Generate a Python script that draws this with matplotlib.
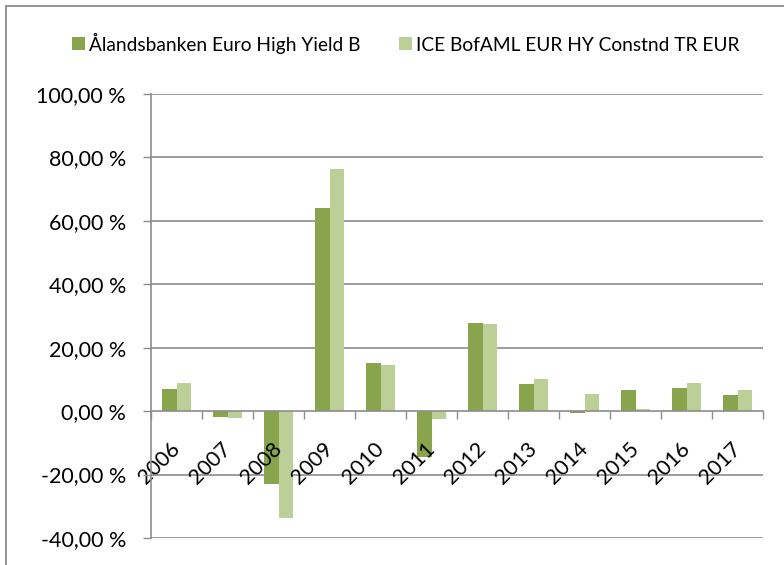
import matplotlib
matplotlib.use("Agg")
import matplotlib.pyplot as plt
from matplotlib.ticker import FixedLocator, FuncFormatter
from matplotlib.patches import Rectangle

plt.rcParams['font.family'] = ['Lato', 'DejaVu Sans']

years = ['2006', '2007', '2008', '2009', '2010', '2011',
         '2012', '2013', '2014', '2015', '2016', '2017']
fund_name = 'Ålandsbanken Euro High Yield B'
index_name = 'ICE BofAML EUR HY Constnd TR EUR'
fund_returns = [6.9, -1.9, -23.1, 64.0, 15.1, -14.4, 27.8, 8.7, -0.7, 6.7, 7.3, 5.1]
index_returns = [8.8, -2.1, -33.6, 76.3, 14.7, -2.6, 27.4, 10.0, 5.4, 0.6, 9.0, 6.6]
y_ticks = [-40, -20, 0, 20, 40, 60, 80, 100]

dark_green = '#88A54D'
light_green = '#BBCF97'
grid_grey = '#8C8C8C'

W, H = 784, 565
fig = plt.figure(figsize=(W / 100, H / 100), dpi=100)
ax = fig.add_axes([151 / W, 1 - 538 / H, (763 - 151) / W, (538 - 94) / H])

x = list(range(len(years)))
bw = 1 / 3.5
ax.bar([i - bw / 2 for i in x], fund_returns, width=bw, color=dark_green,
       label=fund_name, zorder=2)
ax.bar([i + bw / 2 for i in x], index_returns, width=bw, color=light_green,
       label=index_name, zorder=2)

ax.set_xlim(-0.5, len(years) - 0.5)
ax.set_ylim(y_ticks[0], y_ticks[-1])

# horizontal gridlines behind the bars
for v in y_ticks:
    if v != 0:
        ax.axhline(v, color=grid_grey, linewidth=1.2, zorder=0)

# axis (ticks and labels) drawn above the bars
ax.set_axisbelow(False)

ax.yaxis.set_major_locator(FixedLocator(y_ticks))
ax.yaxis.set_major_formatter(FuncFormatter(lambda v, p: f"{v:.2f} %".replace('.', ',')))
ax.tick_params(axis='y', direction='out', length=6, width=1, color=grid_grey,
               labelsize=15.5, pad=12, labelcolor='black')

# x axis crossing at zero, ticks between categories
ax.spines['bottom'].set_position(('data', 0))
for s in ('top', 'right'):
    ax.spines[s].set_visible(False)
for s in ('bottom', 'left'):
    ax.spines[s].set_color(grid_grey)
    ax.spines[s].set_linewidth(1.2)
    ax.spines[s].set_zorder(4)

ax.xaxis.set_major_locator(FixedLocator(x))
ax.set_xticklabels(years, rotation=45, ha='right', va='center',
                   rotation_mode='anchor')
ax.xaxis.set_minor_locator(FixedLocator([i - 0.5 for i in range(len(years) + 1)]))
ax.tick_params(axis='x', which='major', length=0, labelsize=15.5, pad=25)
ax.tick_params(axis='x', which='minor', direction='out', length=6, width=1,
               color=grid_grey)
for lbl in ax.get_xticklabels():
    lbl.set_zorder(5)

fig.legend(loc='center', bbox_to_anchor=(406 / W, 1 - 43 / H), ncol=2,
           frameon=False, fontsize=13.8, handlelength=0.65, handleheight=0.65,
           handletextpad=0.25, columnspacing=2.0)

# chart outline
fig.patches.append(Rectangle((6 / W, -0.1), 1.2, 1 - 6 / H + 0.1,
                             transform=fig.transFigure, fill=False,
                             edgecolor='#8C8C8C', linewidth=1.3))

fig.savefig('out.png', dpi=100)
